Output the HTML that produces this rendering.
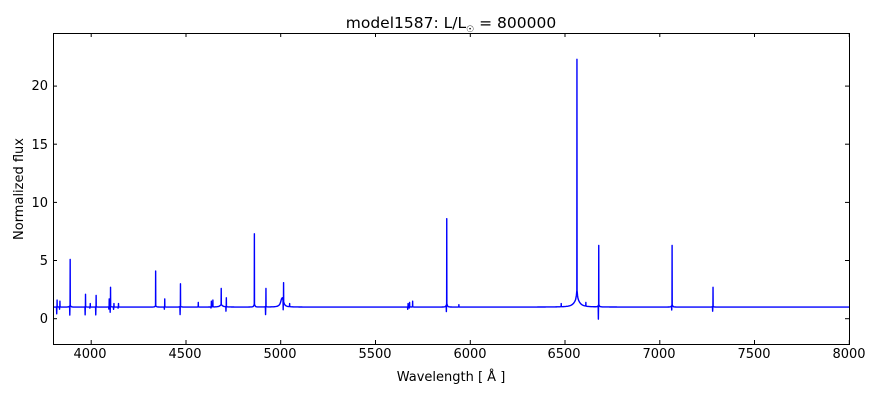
<!DOCTYPE html>
<html><head><meta charset="utf-8"><style>
body{margin:0;background:#fff;width:880px;height:400px;overflow:hidden}
text{font-family:"DejaVu Sans","Liberation Sans",sans-serif;fill:#000}
</style></head><body>
<svg id="s" width="880" height="400" xmlns="http://www.w3.org/2000/svg">
<rect width="880" height="400" fill="#fff"/>
<path id="spec" d="" fill="none" stroke="#0000ff" stroke-width="1.4" stroke-linejoin="round"/>
<rect x="53.5" y="33.5" width="796" height="311" fill="none" stroke="#000" stroke-width="1"/>
<g id="ticks" stroke="#000" stroke-width="1"></g>
<g font-size="13" text-anchor="middle">
<text x="90" y="358">4000</text><text x="185" y="358">4500</text><text x="280" y="358">5000</text>
<text x="375" y="358">5500</text><text x="470" y="358">6000</text><text x="564" y="358">6500</text>
<text x="659" y="358">7000</text><text x="754" y="358">7500</text><text x="849" y="358">8000</text>
</g>
<g font-size="13" text-anchor="end">
<text x="48" y="323">0</text><text x="48" y="265">5</text><text x="48" y="207">10</text>
<text x="48" y="149">15</text><text x="48" y="90">20</text>
</g>
<text x="451" y="381" font-size="13" text-anchor="middle">Wavelength [ Å ]</text>
<text transform="translate(23,189) rotate(-90)" font-size="13" text-anchor="middle">Normalized flux</text>
<text x="451" y="28" font-size="15.5" text-anchor="middle">model1587: L/L<tspan font-size="9" dy="4">☉</tspan><tspan dy="-4"> = 800000</tspan></text>
</svg>
<script>
var X=function(w){return 53.3+(w-3800)*796/4200};
var Y=function(f){return 318.7-f*11.63};
var lines=[[3820,1.6,0.4],[3835,1.5,0.8],[3889,5.1,0.2],[3970,2.1,0.3],[3995,1.3,0.9],[4026,2.0,0.3],[4095,1.7,0.8],[4102,2.7,0.5],[4120,1.3,0.8],[4144,1.3,0.9],[4340,4.1,1],[4388,1.7,0.8],[4471,3.0,0.3],[4565,1.4,1],[4634,1.5,0.9],[4642,1.6,1],[4686,2.6,1],[4713,1.8,0.6],[4861,7.3,1],[4922,2.6,0.3],[5015,3.1,0.2],[5047,1.3,1],[5672,1.3,0.8],[5680,1.4,0.9],[5696,1.5,1],[5876,8.6,0.4],[5940,1.2,1],[6480,1.3,1],[6563,22.3,1],[6610,1.4,1],[6678,6.3,-0.2],[7065,6.3,0.6],[7281,2.7,0.6]];
var ws=[];
for(var w=3800;w<=8000;w+=4)ws.push(w);
lines.forEach(function(l){[-3,-2,-1,-0.6,0,0.6,1.5,3].forEach(function(o){ws.push(l[0]+o);});});
ws.sort(function(a,b){return a-b});
function F(w){
 var f=1;
 f+=0.8/(1+Math.pow((w-5007)/8,2));
 f+=0.6/(1+Math.pow((w-6563)/18,2));
 f+=0.15/(1+Math.pow((w-4686)/10,2));
 var i,l,dx;
 for(i=0;i<lines.length;i++){l=lines[i];dx=w-l[0];
  f+=(l[1]-1)*0.04/(1+Math.pow(dx/3,2));}
 for(i=0;i<lines.length;i++){l=lines[i];dx=w-l[0];
  var t=Math.max(0,1-Math.abs(dx)/0.6);
  if(t>0)f=Math.max(f,1+(l[1]-1)*t);
  f+=(l[2]-1)*Math.max(0,1-Math.abs(dx+2)/0.9);
 }
 return f;
}
var d=[];
ws.forEach(function(w){d.push((d.length?"L":"M")+X(w).toFixed(2)+" "+Y(F(w)).toFixed(2));});
document.getElementById("spec").setAttribute("d",d.join(""));
var t="";
for(var k=4000;k<=8000;k+=500){var x=X(k).toFixed(1);t+='<line x1="'+x+'" y1="344" x2="'+x+'" y2="340"/><line x1="'+x+'" y1="33" x2="'+x+'" y2="37"/>';}
for(var v=0;v<=20;v+=5){var y=Y(v).toFixed(1);t+='<line x1="53" y1="'+y+'" x2="57" y2="'+y+'"/><line x1="849" y1="'+y+'" x2="845" y2="'+y+'"/>';}
document.getElementById("ticks").innerHTML=t;
</script>
</body></html>
